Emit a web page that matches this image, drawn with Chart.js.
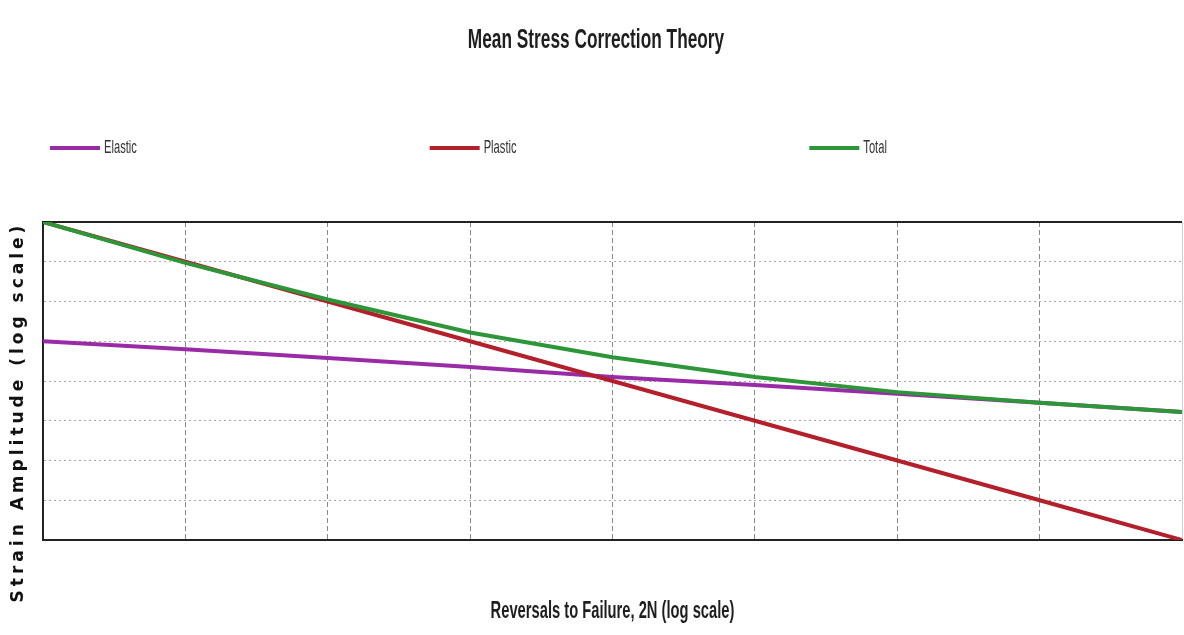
<!DOCTYPE html>
<html>
<head>
<meta charset="utf-8">
<script src="https://cdn.jsdelivr.net/npm/chart.js@4/dist/chart.umd.min.js"></script>
<style>
  body { margin: 0; background: #fff; }
  #wrap { width: 1184px; height: 635px; }
</style>
</head>
<body>
<div id="wrap"><canvas id="fatigueChart"></canvas></div>
<script>
"use strict"

// log(2N) positions, one per vertical grid line
const reversals = [0, 1, 2, 3, 4, 5, 6, 7, 8];

// strain amplitude (log units, 0 = bottom, 8 = top)
const elastic = [5.0, 4.8, 4.58, 4.35, 4.1, 3.9, 3.68, 3.45, 3.22];
const plastic = [8.0, 7.0, 6.0, 5.0, 4.0, 3.0, 2.0, 1.0, 0.0];
const total   = [8.0, 6.97, 6.05, 5.22, 4.6, 4.1, 3.72, 3.45, 3.22];

const seriesNames = ["Elastic", "Plastic", "Total"];
const seriesColors = ["#9a2ba6", "#b3202b", "#2c9638"];

const chartTitle = "Mean Stress Correction Theory";
const xTitle = "Reversals to Failure, 2N (log scale)";
const yTitle = "Strain Amplitude (log scale)";

const sans = "'Liberation Sans', Arial, sans-serif";

let toPoints = function (ys) {
    return reversals.map((x, i) => ({ x: x, y: ys[i] }));
}

// the original uses a tall, narrow font: squeeze the text horizontally
let narrowText = function (ctx, text, x, y, font, squeeze, align) {
    ctx.save();
    ctx.translate(x, y);
    ctx.scale(squeeze, 1);
    ctx.font = font;
    ctx.textAlign = align;
    ctx.textBaseline = "middle";
    ctx.fillText(text, 0, 0);
    ctx.restore();
}

// titles + legend spread across the plot in thirds, like the original
const textLayer = {
    id: "textLayer",
    afterDraw(chart) {
        const ctx = chart.ctx;
        const area = chart.chartArea;
        const step = area.width / 3;

        ctx.save();
        ctx.fillStyle = "#1e1e1e";
        narrowText(ctx, chartTitle, 596, 41, "bold 27px " + sans, 0.64, "center");
        narrowText(ctx, xTitle, (area.left + area.right) / 2, 612, "bold 23px " + sans, 0.64, "center");

        chart.data.datasets.forEach((ds, i) => {
            let x0 = area.left + 7 + i * step;
            let y = 148;
            ctx.strokeStyle = ds.borderColor;
            ctx.lineWidth = 4;
            ctx.beginPath();
            ctx.moveTo(x0, y);
            ctx.lineTo(x0 + 50, y);
            ctx.stroke();
            ctx.fillStyle = "#333";
            narrowText(ctx, ds.label, x0 + 54, y, "18px " + sans, 0.62, "left");
        });

        // vertical, letter spaced y title
        ctx.translate(19, 412);
        ctx.rotate(-Math.PI / 2);
        ctx.font = "bold 17px 'DejaVu Sans', sans-serif";
        ctx.letterSpacing = "4px";
        ctx.fillStyle = "#111";
        ctx.textAlign = "center";
        ctx.textBaseline = "middle";
        ctx.fillText(yTitle, 0, 0);
        ctx.restore();
    }
};

const ctx = document.getElementById("fatigueChart").getContext("2d");
const fatigueChart = new Chart(ctx, {
    type: "line",
    data: {
        datasets: [
            {
                label: seriesNames[0],
                data: toPoints(elastic),
                borderColor: seriesColors[0],
                order: 2
            },
            {
                label: seriesNames[1],
                data: toPoints(plastic),
                borderColor: seriesColors[1],
                order: 1
            },
            {
                label: seriesNames[2],
                data: toPoints(total),
                borderColor: seriesColors[2],
                order: 0
            }
        ]
    },
    options: {
        responsive: true,
        maintainAspectRatio: false,
        animation: false,
        elements: {
            line: { borderWidth: 4, tension: 0, fill: false },
            point: { radius: 0 }
        },
        layout: {
            padding: { left: 43, right: 2, top: 222, bottom: 95 }
        },
        plugins: {
            legend: { display: false },
            tooltip: { enabled: false },
            title: { display: false }
        },
        scales: {
            x: {
                type: "linear",
                min: 0,
                max: 8,
                ticks: { display: false, stepSize: 1 },
                grid: {
                    drawTicks: false,
                    color: c => (c.tick && c.tick.value === 8) ? "#d0d0d0" : "#8a8a8a",
                    lineWidth: 1
                },
                border: {
                    display: true,
                    color: "#222",
                    width: 2,
                    dash: c => (c.tick && c.tick.value === 8) ? [] : [5, 3]
                }
            },
            y: {
                min: 0,
                max: 8,
                ticks: { display: false, stepSize: 1 },
                grid: {
                    drawTicks: false,
                    color: c => (c.tick && c.tick.value === 8) ? "#222" : "#a8a8a8",
                    lineWidth: c => (c.tick && c.tick.value === 8) ? 2 : 1
                },
                border: {
                    display: true,
                    color: "#222",
                    width: 2,
                    dash: c => (c.tick && c.tick.value === 8) ? [] : [2, 3]
                }
            }
        }
    },
    plugins: [textLayer]
});
</script>
</body>
</html>
